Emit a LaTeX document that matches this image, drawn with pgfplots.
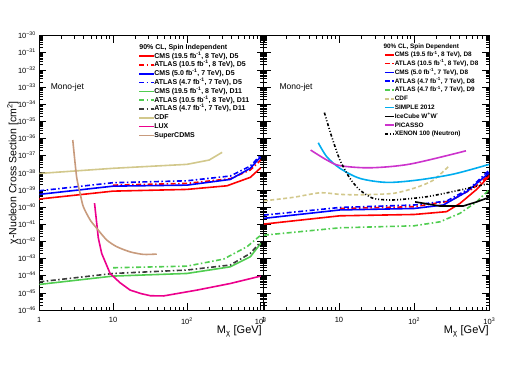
\documentclass[border=0pt]{standalone}
\usepackage{fontspec}
\setmainfont{Liberation Sans}
\usepackage{pgfplots}
\pgfplotsset{compat=1.18}
\definecolor{cgreen}{RGB}{80,205,80}
\definecolor{cdark}{RGB}{60,60,60}
\definecolor{ccdf}{RGB}{210,200,140}
\definecolor{ccdms}{RGB}{200,155,125}
\definecolor{cpic}{RGB}{204,51,204}
\tikzset{dd/.style={dash pattern=on 5pt off 2.5pt on 1.5pt off 2.5pt}}
\def\myminor{2e-46,3e-46,4e-46,5e-46,6e-46,7e-46,8e-46,9e-46,
2e-45,3e-45,4e-45,5e-45,6e-45,7e-45,8e-45,9e-45,
2e-44,3e-44,4e-44,5e-44,6e-44,7e-44,8e-44,9e-44,
2e-43,3e-43,4e-43,5e-43,6e-43,7e-43,8e-43,9e-43,
2e-42,3e-42,4e-42,5e-42,6e-42,7e-42,8e-42,9e-42,
2e-41,3e-41,4e-41,5e-41,6e-41,7e-41,8e-41,9e-41,
2e-40,3e-40,4e-40,5e-40,6e-40,7e-40,8e-40,9e-40,
2e-39,3e-39,4e-39,5e-39,6e-39,7e-39,8e-39,9e-39,
2e-38,3e-38,4e-38,5e-38,6e-38,7e-38,8e-38,9e-38,
2e-37,3e-37,4e-37,5e-37,6e-37,7e-37,8e-37,9e-37,
2e-36,3e-36,4e-36,5e-36,6e-36,7e-36,8e-36,9e-36,
2e-35,3e-35,4e-35,5e-35,6e-35,7e-35,8e-35,9e-35,
2e-34,3e-34,4e-34,5e-34,6e-34,7e-34,8e-34,9e-34,
2e-33,3e-33,4e-33,5e-33,6e-33,7e-33,8e-33,9e-33,
2e-32,3e-32,4e-32,5e-32,6e-32,7e-32,8e-32,9e-32,
2e-31,3e-31,4e-31,5e-31,6e-31,7e-31,8e-31,9e-31}
\begin{document}
\begin{tikzpicture}
\useasboundingbox (0,0) rectangle (512pt,368pt);
\begin{axis}[scale only axis, xmode=log, ymode=log, ymin=1e-46, ymax=1e-30,
  height=274.5pt, at={(39.3pt,58pt)}, anchor=south west, width=224.5pt, xmin=1, xmax=1100,
  xtick={1,10,100,1000},
  xticklabels={1,10,10\textsuperscript{2},10\textsuperscript{3}},
  xticklabel style={yshift=-4pt},
  ytick={1e-46,1e-45,1e-44,1e-43,1e-42,1e-41,1e-40,1e-39,1e-38,1e-37,1e-36,1e-35,1e-34,1e-33,1e-32,1e-31,1e-30},
  minor ytick/.expanded=\myminor,
  yticklabels={10\textsuperscript{−46},10\textsuperscript{−45},10\textsuperscript{−44},10\textsuperscript{−43},10\textsuperscript{−42},10\textsuperscript{−41},10\textsuperscript{−40},10\textsuperscript{−39},10\textsuperscript{−38},10\textsuperscript{−37},10\textsuperscript{−36},10\textsuperscript{−35},10\textsuperscript{−34},10\textsuperscript{−33},10\textsuperscript{−32},10\textsuperscript{−31},10\textsuperscript{−30}},
  ticklabel style={font=\fontsize{7.5}{8}\selectfont},
  major tick length=7pt, minor tick length=3.5pt,
  axis line style={line width=0.8pt}, tick style={line width=0.6pt, black},
  every axis plot/.append style={line width=1.6pt},
  legend cell align=left,
  legend style={at={(0.44,0.938)}, anchor=north west, draw=none, fill=none,
    font=\fontsize{7}{7}\selectfont\bfseries, inner sep=0pt, row sep=2.0pt,
    nodes={inner sep=0pt, text height=5.3pt, text depth=1.5pt},
    /tikz/every even column/.append style={column sep=3pt}},
  legend image code/.code={\draw[#1] (0pt,0pt) -- (14.5pt,0pt);},
]
\addplot[red] coordinates {(1,2.95e-40) (10,8.5e-40) (100,1.07e-39) (349,1.74e-39) (722,5.4e-39) (1000,1.95e-38)};
\addlegendentry{CMS (19.5 fb\textsuperscript{-1}, 8 TeV), D5}
\addplot[red, dd] coordinates {(10,1.9e-39) (100,2.4e-39) (387,4.5e-39) (722,1.45e-38) (1000,5.5e-38)};
\addlegendentry{ATLAS (10.5 fb\textsuperscript{-1}, 8 TeV), D5}
\addplot[blue] coordinates {(1,5.5e-40) (10,1.66e-39) (100,1.9e-39) (387,4.1e-39) (722,1.82e-38) (1000,8.5e-38)};
\addlegendentry{CMS (5.0 fb\textsuperscript{-1}, 7 TeV), D5}
\addplot[blue, dd] coordinates {(1,8.9e-40) (10,2.63e-39) (100,3.4e-39) (387,6.5e-39) (722,2.45e-38) (1000,1.07e-37)};
\addlegendentry{ATLAS (4.7 fb\textsuperscript{-1}, 7 TeV), D5}
\addplot[cgreen] coordinates {(1,3.1e-45) (10,9.5e-45) (100,1.35e-44) (387,3.3e-44) (722,1.26e-43) (1000,7.6e-43)};
\addlegendentry{CMS (19.5 fb\textsuperscript{-1}, 8 TeV), D11}
\addplot[cgreen, dd] coordinates {(10,2.9e-44) (100,3.6e-44) (314,9.3e-44) (652,4.9e-43) (1000,2.3e-42)};
\addlegendentry{ATLAS (10.5 fb\textsuperscript{-1}, 8 TeV), D11}
\addplot[cdark, dd] coordinates {(1,4.4e-45) (10,1.35e-44) (100,2.14e-44) (387,4.2e-44) (722,2.0e-43) (1000,9.5e-43)};
\addlegendentry{ATLAS (4.7 fb\textsuperscript{-1}, 7 TeV), D11}
\addplot[ccdf] coordinates {(1,9.1e-39) (10,1.82e-38) (100,3.09e-38) (200,5.5e-38) (300,1.55e-37)};
\addlegendentry{CDF}
\addplot[magenta] coordinates {(5.6,1.7e-40) (6.3,1.6e-42) (7.0,2.0e-43) (9.1,1.35e-44) (12.4,3.9e-45) (17,1.45e-45) (24,9e-46) (32,6.8e-46) (48,6.6e-46) (137,1.45e-45) (386,3.5e-45) (1000,9.5e-45)};
\addlegendentry{LUX}
\addplot[ccdms, smooth, tension=0.4] coordinates {(2.84,8.1e-37) (3.2,5.9e-39) (3.57,6.3e-40) (3.95,1.05e-40) (4.9,1.74e-41) (6.0,5.8e-42) (8.2,1.2e-42) (11.2,4.9e-43) (17,2.45e-43) (25.8,1.74e-43) (39,1.82e-43)};
\addlegendentry{SuperCDMS}
\node[anchor=west, font=\fontsize{7}{7}\selectfont\bfseries, inner sep=0pt] at (rel axis cs:0.445,0.957) {90\% CL, Spin Independent};
\node[anchor=center, font=\fontsize{8.5}{9}\selectfont, inner sep=0pt] at (rel axis cs:0.125,0.811) {Mono-jet};
\end{axis}
\begin{axis}[scale only axis, xmode=log, ymode=log, ymin=1e-46, ymax=1e-30,
  height=274.5pt, at={(263.8pt,58pt)}, anchor=south west, width=225.5pt, xmin=1, xmax=1000,
  xtick={1,10,100,1000},
  xticklabels={1,10,10\textsuperscript{2},10\textsuperscript{3}},
  xticklabel style={yshift=-4pt},
  ytick={1e-46,1e-45,1e-44,1e-43,1e-42,1e-41,1e-40,1e-39,1e-38,1e-37,1e-36,1e-35,1e-34,1e-33,1e-32,1e-31,1e-30},
  minor ytick/.expanded=\myminor,
  yticklabels={},
  ticklabel style={font=\fontsize{7.5}{8}\selectfont},
  major tick length=7pt, minor tick length=3.5pt,
  axis line style={line width=0.8pt}, tick style={line width=0.6pt, black},
  every axis plot/.append style={line width=1.6pt},
  legend cell align=left,
  legend style={at={(0.533,0.942)}, anchor=north west, draw=none, fill=none,
    font=\fontsize{6.4}{7}\selectfont\bfseries, inner sep=0pt, row sep=2.3pt,
    nodes={inner sep=0pt, text height=5pt, text depth=1.5pt},
    /tikz/every even column/.append style={column sep=2.5pt}},
  legend image code/.code={\draw[#1] (0pt,0pt) -- (9pt,0pt);},
]
\addplot[red] coordinates {(1,1.02e-41) (10.3,3.1e-41) (100,3.7e-41) (270,5.4e-41) (406,1.62e-40) (678,1.07e-39) (1000,6.5e-39)};
\addlegendentry{CMS (19.5 fb\textsuperscript{-1}, 8 TeV), D8}
\addplot[red, dd] coordinates {(10.3,8.3e-41) (100,1.05e-40) (299,2.24e-40) (611,1.23e-39) (1000,7.4e-39)};
\addlegendentry{ATLAS (10.5 fb\textsuperscript{-1}, 8 TeV), D8}
\addplot[blue] coordinates {(1,2.2e-41) (10.3,6.8e-41) (100,8.3e-41) (244,1.32e-40) (499,7.8e-40) (1000,1.0e-38)};
\addlegendentry{CMS (5.0 fb\textsuperscript{-1}, 7 TeV), D8}
\addplot[blue, dd] coordinates {(1,3.4e-41) (10.3,9.5e-41) (100,1.32e-40) (270,2.24e-40) (552,1.23e-39) (1000,1.45e-38)};
\addlegendentry{ATLAS (4.7 fb\textsuperscript{-1}, 7 TeV), D8}
\addplot[cgreen, dd] coordinates {(1,2.3e-42) (10.3,6.2e-42) (100,8.1e-42) (220,1.38e-41) (406,4.3e-41) (678,2.0e-40) (1000,1.07e-39)};
\addlegendentry{ATLAS (4.7 fb\textsuperscript{-1}, 7 TeV), D9}
\addplot[ccdf, dash pattern=on 4pt off 2.5pt, smooth, tension=0.4] coordinates {(1,2.3e-40) (2.47,3.7e-40) (5.6,6.8e-40) (10.3,5.5e-40) (19,5.2e-40) (53,6.3e-40) (108,1.41e-39) (180,3.7e-39) (284,2.24e-38)};
\addlegendentry{CDF}
\addplot[cyan, smooth, tension=0.5] coordinates {(5.3,5.6e-37) (6.9,8.5e-38) (10.3,1.82e-38) (19,4.7e-39) (43,2.75e-39) (108,3.7e-39) (331,8.3e-39) (1000,3.1e-38)};
\addlegendentry{SIMPLE 2012}
\addplot[black] coordinates {(103,2.0e-40) (220,1.15e-40) (450,1.15e-40) (678,2.0e-40) (1000,3.7e-40)};
\addlegendentry{IceCube W\textsuperscript{+}W\textsuperscript{-}}
\addplot[cpic, smooth, tension=0.5] coordinates {(4.2,2.1e-37) (6.9,5.5e-38) (10.3,2.6e-38) (26,1.95e-38) (88,3.2e-38) (489,1.9e-37)};
\addlegendentry{PICASSO}
\addplot[black, dash pattern=on 3pt off 2pt on 1pt off 2pt on 1pt off 2pt, smooth, tension=0.4] coordinates {(6.4,3.2e-35) (8.0,1.26e-36) (10.3,5.5e-38) (14,4.7e-39) (19,9.8e-40) (28.6,3.2e-40) (53,2.6e-40) (147,4.0e-40) (406,9.8e-40) (1000,2.4e-39)};
\addlegendentry{XENON 100 (Neutron)}
\node[anchor=west, font=\fontsize{6.4}{7}\selectfont\bfseries, inner sep=0pt] at (rel axis cs:0.530,0.957) {90\% CL, Spin Dependent};
\node[anchor=center, font=\fontsize{8.5}{9}\selectfont, inner sep=0pt] at (rel axis cs:0.143,0.811) {Mono-jet};
\end{axis}
\node[rotate=90, font=\fontsize{10.5}{12}\selectfont, inner sep=0pt] at (13pt,195.25pt) {χ-Nucleon Cross Section [cm\textsuperscript{2}]};
\node[anchor=east, font=\fontsize{11}{12}\selectfont, inner sep=0pt] at (262pt,37pt) {M\textsubscript{χ} [GeV]};
\node[anchor=east, font=\fontsize{11}{12}\selectfont, inner sep=0pt] at (489pt,37pt) {M\textsubscript{χ} [GeV]};
\end{tikzpicture}
\end{document}
